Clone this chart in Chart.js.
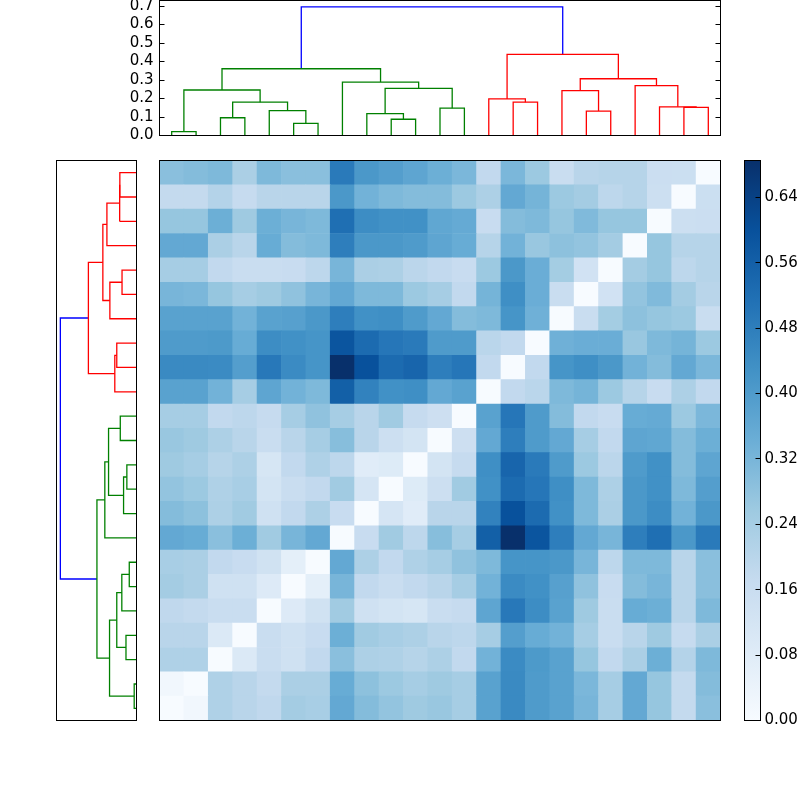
<!DOCTYPE html>
<html>
<head>
<meta charset="utf-8">
<script src="https://cdn.jsdelivr.net/npm/chart.js@4.4.1/dist/chart.umd.min.js"></script>
<style>
html, body { margin: 0; padding: 0; background: #fff; }
#wrap { position: relative; width: 800px; height: 800px; overflow: hidden; }
#wrap canvas { position: absolute; left: 0; top: 0; }
</style>
</head>
<body>
<div id="wrap">
	<canvas id="topTree" width="800" height="800"></canvas>
	<canvas id="sideTree" width="800" height="800"></canvas>
	<canvas id="heat" width="800" height="800"></canvas>
	<canvas id="colorBar" width="800" height="800"></canvas>
</div>
<script>
// leaves in plotted order (left to right on top, bottom to top on the side)
var leafLabels = ["0", "1", "2", "3", "4", "5", "6", "7", "8", "9", "10", "11",
	"12", "13", "14", "15", "16", "17", "18", "19", "20", "21", "22"];

// [left node, right node, height]; nodes 0-22 are leaves, 23+ are the merges below in order
var merges = [
	[0, 1, 0.021], [2, 3, 0.096], [5, 6, 0.066], [4, 25, 0.134], [24, 26, 0.180],
	[23, 27, 0.246], [9, 10, 0.088], [8, 29, 0.118], [11, 12, 0.148], [30, 31, 0.255],
	[7, 32, 0.289], [28, 33, 0.361],
	[14, 15, 0.180], [13, 35, 0.198], [17, 18, 0.132], [16, 37, 0.243], [21, 22, 0.152],
	[20, 39, 0.155], [19, 40, 0.270], [38, 41, 0.307], [36, 42, 0.439],
	[34, 43, 0.695]
];
var linkColors = ["#008000", "#008000", "#008000", "#008000", "#008000", "#008000",
	"#008000", "#008000", "#008000", "#008000", "#008000", "#008000",
	"#ff0000", "#ff0000", "#ff0000", "#ff0000", "#ff0000", "#ff0000", "#ff0000",
	"#ff0000", "#ff0000", "#0000ff"];

// distance matrix, lower triangle, leaves in plotted order
var distLower = [
	[],
	[0.021],
	[0.22, 0.22],
	[0.20, 0.20, 0.096],
	[0.185, 0.175, 0.16, 0.16],
	[0.245, 0.23, 0.14, 0.14, 0.09],
	[0.235, 0.23, 0.18, 0.165, 0.134, 0.066],
	[0.36, 0.35, 0.29, 0.34, 0.25, 0.32, 0.36],
	[0.30, 0.285, 0.225, 0.25, 0.14, 0.18, 0.225, 0.165],
	[0.275, 0.26, 0.22, 0.235, 0.125, 0.16, 0.18, 0.25, 0.118],
	[0.255, 0.24, 0.205, 0.225, 0.115, 0.18, 0.22, 0.19, 0.08, 0.088],
	[0.265, 0.255, 0.225, 0.20, 0.16, 0.20, 0.24, 0.295, 0.20, 0.15, 0.125],
	[0.24, 0.24, 0.18, 0.19, 0.17, 0.24, 0.28, 0.24, 0.20, 0.25, 0.17, 0.148],
	[0.38, 0.38, 0.33, 0.24, 0.37, 0.33, 0.31, 0.56, 0.47, 0.43, 0.435, 0.36, 0.38],
	[0.45, 0.45, 0.445, 0.39, 0.495, 0.445, 0.42, 0.685, 0.60, 0.53, 0.545, 0.48, 0.50, 0.18],
	[0.40, 0.40, 0.405, 0.35, 0.44, 0.43, 0.42, 0.59, 0.53, 0.50, 0.49, 0.40, 0.40, 0.198, 0.18],
	[0.38, 0.38, 0.38, 0.33, 0.38, 0.385, 0.41, 0.48, 0.43, 0.435, 0.40, 0.36, 0.30, 0.31, 0.42, 0.335],
	[0.32, 0.315, 0.27, 0.24, 0.255, 0.28, 0.32, 0.36, 0.31, 0.31, 0.26, 0.24, 0.18, 0.325, 0.435, 0.345, 0.16],
	[0.24, 0.24, 0.18, 0.16, 0.16, 0.165, 0.19, 0.32, 0.23, 0.225, 0.195, 0.18, 0.165, 0.26, 0.41, 0.345, 0.243, 0.132],
	[0.36, 0.36, 0.23, 0.20, 0.35, 0.30, 0.31, 0.48, 0.41, 0.41, 0.40, 0.37, 0.35, 0.205, 0.33, 0.265, 0.285, 0.275, 0.245],
	[0.27, 0.27, 0.34, 0.255, 0.34, 0.32, 0.31, 0.52, 0.44, 0.43, 0.43, 0.365, 0.355, 0.165, 0.30, 0.31, 0.27, 0.307, 0.27, 0.27],
	[0.175, 0.175, 0.21, 0.17, 0.20, 0.20, 0.20, 0.41, 0.33, 0.31, 0.30, 0.30, 0.26, 0.225, 0.36, 0.325, 0.26, 0.245, 0.19, 0.205, 0.15],
	[0.29, 0.30, 0.31, 0.23, 0.31, 0.29, 0.29, 0.49, 0.41, 0.39, 0.37, 0.34, 0.315, 0.18, 0.315, 0.26, 0.16, 0.20, 0.205, 0.205, 0.155, 0.152]
];

var treeTicks = [0, 0.1, 0.2, 0.3, 0.4, 0.5, 0.6, 0.7];
var barTicks = [0, 0.08, 0.16, 0.24, 0.32, 0.40, 0.48, 0.56, 0.64];
var treeMax = 0.73;
var vmax = 0.685;
var bluesStops = ["#f7fbff", "#deebf7", "#c6dbef", "#9ecae1", "#6baed6", "#4292c6", "#2171b5", "#08519c", "#08306b"];

Chart.defaults.font.family = "'DejaVu Sans', sans-serif";
Chart.defaults.font.size = 15;
Chart.defaults.color = "#000";
Chart.defaults.animation = false;
Chart.defaults.plugins.legend.display = false;
Chart.defaults.plugins.tooltip.enabled = false;

function hexRgb(h) {
	return [parseInt(h.slice(1, 3), 16), parseInt(h.slice(3, 5), 16), parseInt(h.slice(5, 7), 16)];
}

function blues(f) {
	f = Math.max(0, Math.min(1, f));
	var pos = f * (bluesStops.length - 1);
	var i = Math.min(Math.floor(pos), bluesStops.length - 2);
	var t = pos - i;
	var a = hexRgb(bluesStops[i]), b = hexRgb(bluesStops[i + 1]);
	var c = a.map((v, k) => Math.round(v + (b[k] - v) * t));
	return "rgb(" + c.join(",") + ")";
}

// full symmetric matrix from the lower triangle
var dist = leafLabels.map((_, a) => leafLabels.map((_, b) => {
	if (a === b) return 0;
	return a > b ? distLower[a][b] : distLower[b][a];
}));

// dendrogram links, scipy style: leaf i sits at 5 + 10 i
var nodeX = leafLabels.map((_, i) => 5 + 10 * i);
var nodeH = leafLabels.map(() => 0);
var links = merges.map(([a, b, h]) => {
	var pts = [
		{x: nodeX[a], y: nodeH[a]}, {x: nodeX[a], y: h},
		{x: nodeX[b], y: h}, {x: nodeX[b], y: nodeH[b]}
	];
	nodeX.push((nodeX[a] + nodeX[b]) / 2);
	nodeH.push(h);
	return pts;
});

// black box round the plot area plus inward tick marks
var framePlugin = {
	id: "frame",
	afterDraw: function (chart, args, opts) {
		var ctx = chart.ctx, a = chart.chartArea;
		ctx.save();
		ctx.strokeStyle = "#000";
		ctx.lineWidth = 1;
		ctx.strokeRect(a.left, a.top, a.right - a.left, a.bottom - a.top);
		if (opts.sides && opts.sides.length) {
			var y = chart.scales.y;
			ctx.beginPath();
			y.ticks.forEach(t => {
				var py = Math.round(y.getPixelForValue(t.value) - 0.5) + 0.5;
				if (opts.sides.indexOf("left") >= 0) { ctx.moveTo(a.left, py); ctx.lineTo(a.left + 5, py); }
				if (opts.sides.indexOf("right") >= 0) { ctx.moveTo(a.right, py); ctx.lineTo(a.right - 5, py); }
			});
			ctx.stroke();
		}
		ctx.restore();
	}
};

function fixWidth(w) {
	return function (s) {
		s.width = w;
		s.paddingTop = 0;
		s.paddingBottom = 0;
	};
}

var topTree = new Chart(document.getElementById("topTree"), {
	type: "scatter",
	data: {
		datasets: links.map((pts, i) => ({
			data: pts,
			showLine: true,
			borderColor: linkColors[i],
			borderWidth: 1.3,
			pointRadius: 0,
			fill: false
		}))
	},
	options: {
		responsive: false,
		layout: {padding: {left: 0, right: 79.5, top: 0.5, bottom: 664.5}},
		scales: {
			x: {type: "linear", min: 0, max: 230, display: false},
			y: {
				type: "linear", min: 0, max: treeMax,
				grid: {display: false, drawTicks: false},
				border: {display: false},
				afterBuildTicks: s => { s.ticks = treeTicks.map(v => ({value: v})); },
				ticks: {padding: 6, autoSkip: false, callback: v => v.toFixed(1)},
				afterFit: fixWidth(159.5)
			}
		},
		plugins: {frame: {sides: ["left", "right"]}}
	},
	plugins: [framePlugin]
});

var sideTree = new Chart(document.getElementById("sideTree"), {
	type: "scatter",
	data: {
		datasets: links.map((pts, i) => ({
			data: pts.map(p => ({x: p.y, y: p.x})),
			showLine: true,
			borderColor: linkColors[i],
			borderWidth: 1.3,
			pointRadius: 0,
			fill: false
		}))
	},
	options: {
		responsive: false,
		layout: {padding: {left: 56.5, right: 663.5, top: 160.5, bottom: 79.5}},
		scales: {
			x: {type: "linear", min: 0, max: treeMax, reverse: true, display: false},
			y: {type: "linear", min: 0, max: 230, display: false}
		},
		plugins: {frame: {sides: []}}
	},
	plugins: [framePlugin]
});

// one stacked dataset per matrix row, bottom row first
var heat = new Chart(document.getElementById("heat"), {
	type: "bar",
	data: {
		labels: leafLabels,
		datasets: dist.map(row => ({
			data: row.map(() => 1),
			backgroundColor: row.map(v => blues(v / vmax)),
			borderWidth: 0,
			barPercentage: 1,
			categoryPercentage: 1
		}))
	},
	options: {
		responsive: false,
		layout: {padding: {left: 159.5, right: 79.5, top: 160.5, bottom: 79.5}},
		scales: {
			x: {stacked: true, display: false},
			y: {stacked: true, min: 0, max: leafLabels.length, display: false}
		},
		plugins: {frame: {sides: []}}
	},
	plugins: [framePlugin]
});

var colorBar = new Chart(document.getElementById("colorBar"), {
	type: "bar",
	data: {
		labels: ["scale"],
		datasets: [{
			data: [[0, vmax]],
			backgroundColor: function (c) {
				var chart = c.chart;
				if (!chart.chartArea) return bluesStops[4];
				var y = chart.scales.y;
				var g = chart.ctx.createLinearGradient(0, y.getPixelForValue(0), 0, y.getPixelForValue(vmax));
				bluesStops.forEach((col, i) => g.addColorStop(i / (bluesStops.length - 1), col));
				return g;
			},
			borderWidth: 0,
			barPercentage: 1,
			categoryPercentage: 1
		}]
	},
	options: {
		responsive: false,
		layout: {padding: {left: 744.5, right: 0, top: 160.5, bottom: 79.5}},
		scales: {
			x: {display: false},
			y: {
				position: "right", min: 0, max: vmax,
				grid: {display: false, drawTicks: false},
				border: {display: false},
				afterBuildTicks: s => { s.ticks = barTicks.map(v => ({value: v})); },
				ticks: {padding: 4, autoSkip: false, callback: v => v.toFixed(2)},
				afterFit: fixWidth(39.5)
			}
		},
		plugins: {frame: {sides: ["right"]}}
	},
	plugins: [framePlugin]
});
</script>
</body>
</html>
